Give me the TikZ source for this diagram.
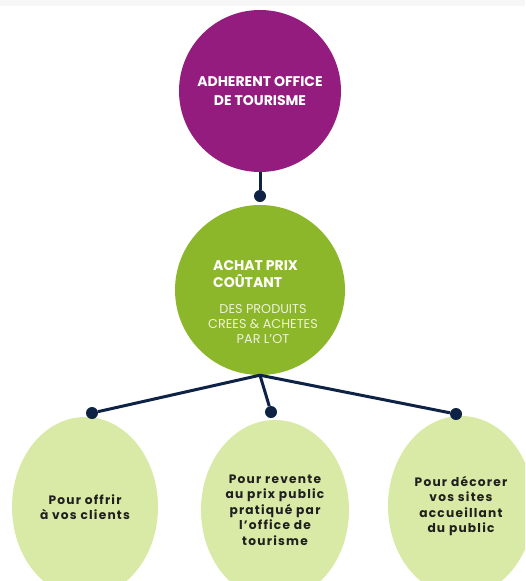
\documentclass[tikz,border=0pt]{standalone}
\usepackage{fontspec}
\usetikzlibrary{shapes.geometric}
\setmainfont{Poppins}
\newfontfamily\spacedfont[LetterSpace=10]{Poppins}
\definecolor{plum}{HTML}{931C7E}
\definecolor{leaf}{HTML}{8DB72A}
\definecolor{pale}{HTML}{D8EAA5}
\definecolor{navy}{HTML}{0E2245}
\definecolor{cream}{HTML}{EEF2D6}
\tikzset{
  bubble/.style={circle, inner sep=0pt, text=white, align=center},
  goal/.style={ellipse, fill=pale, inner sep=0pt, minimum height=180pt, align=center,
    text=black!88, font=\spacedfont\bfseries\fontsize{12.2}{15.5}\selectfont},
  dot/.style={circle, fill=navy, inner sep=0pt, minimum size=12pt},
  link/.style={draw=navy, line width=3pt}
}
\begin{document}
\begin{tikzpicture}[x=1pt, y=-1pt]
    \useasboundingbox (0,0) rectangle (525,581);
    \clip (0,0) rectangle (525,581);
    \fill[black!3] (0,0) rectangle (525,6);

    \node[bubble, fill=plum, minimum size=162pt,
      font=\bfseries\fontsize{14}{19}\selectfont] (ot) at (260,91) {ADHERENT OFFICE\\DE TOURISME};
    \node[bubble, fill=leaf, minimum size=170pt] (achat) at (260,290) {};
    \node[anchor=west, text=white, align=left, inner sep=0pt,
      font=\bfseries\fontsize{14}{17}\selectfont] (achattxt) at (213,274) {ACHAT PRIX\\COÛTANT};
    \node[text=cream, align=center, inner sep=0pt,
      font=\fontsize{12.8}{15}\selectfont] (produits) at (263,324) {DES PRODUITS\\CREES \& ACHETES\\PAR L'OT};

    \node[goal, minimum width=146pt] (offrir) at (85,507) {Pour offrir\\à vos clients};
    \node[goal, minimum width=148pt] (revente) at (275,510) {Pour revente\\au prix public\\pratiqué par\\l’office de\\tourisme};
    \node[goal, minimum width=146pt] (decor) at (461,506) {Pour décorer\\vos sites\\accueillant\\du public};

    \node[dot] (d0) at (260,196) {};
    \node[dot] (d1) at (92,413) {};
    \node[dot] (d2) at (271,412) {};
    \node[dot] (d3) at (456,414) {};

    % links between levels
    \draw[link] (ot.south) -- (d0);
    \draw[link] (achat.south) -- (d1);
    \draw[link] (achat.south) -- (d2);
    \draw[link] (achat.south) -- (d3);
\end{tikzpicture}
\end{document}
